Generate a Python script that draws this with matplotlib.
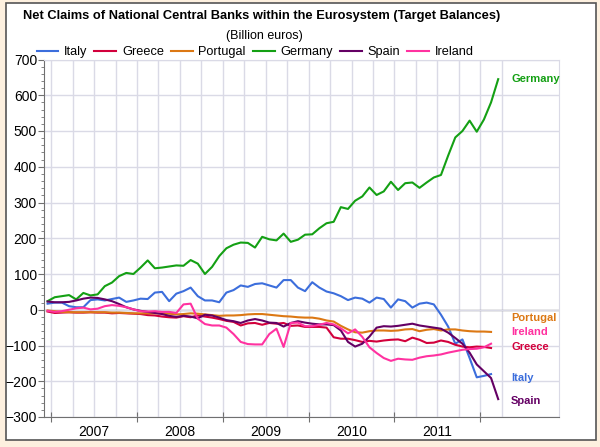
import matplotlib
matplotlib.use("Agg")
import matplotlib.pyplot as plt
from matplotlib.patches import Rectangle

plt.rcParams['font.family'] = ['Liberation Sans', 'DejaVu Sans']

# ---- data (billion euros), monthly from Dec 2006 ----
years = ["2007", "2008", "2009", "2010", "2011"]

germany = [24, 35, 38, 41, 29, 47, 40, 43, 66, 76, 94, 103, 100, 118, 138, 116,
           118, 121, 124, 123, 139, 129, 100, 120, 150, 172, 182, 188, 187, 174,
           204, 197, 194, 213, 190, 196, 210, 211, 228, 242, 246, 287, 282, 305,
           317, 342, 321, 331, 358, 335, 354, 356, 341, 356, 370, 377, 431, 482,
           500, 529, 498, 532, 580, 645]
italy = [17, 20, 20, 10, 7, 7, 27, 29, 26, 30, 34, 22, 26, 31, 30, 48, 50, 24,
         45, 52, 62, 38, 26, 26, 21, 48, 55, 68, 64, 72, 74, 68, 62, 83, 83, 62,
         52, 77, 62, 51, 46, 38, 27, 34, 31, 20, 34, 30, 6, 29, 24, 6, 17, 20,
         15, -14, -47, -95, -83, -135, -189, -185, -180]
greece = [-5, -9, -8, -7, -8, -8, -7, -8, -8, -10, -9, -10, -11, -12, -15, -16,
          -19, -21, -22, -18, -21, -16, -19, -22, -26, -31, -34, -44, -38, -37,
          -42, -37, -39, -37, -45, -44, -48, -48, -48, -50, -77, -81, -81, -85,
          -90, -87, -89, -86, -84, -83, -88, -78, -84, -93, -92, -86, -90, -98,
          -103, -105, -103, -104, -107]
portugal = [-2, -4, -6, -7, -7, -7, -7, -7, -7, -8, -8, -9, -10, -10, -10, -10,
            -10, -11, -13, -12, -10, -11, -13, -15, -17, -16, -16, -15, -13, -12,
            -12, -14, -16, -18, -19, -21, -22, -22, -25, -30, -33, -45, -55, -63,
            -64, -60, -58, -58, -59, -58, -55, -54, -60, -56, -54, -58, -55, -55,
            -58, -60, -61, -61, -62]
spain = [23, 21, 21, 22, 26, 31, 34, 33, 29, 24, 16, 7, 1, -3, -6, -9, -12, -17,
         -20, -17, -19, -24, -14, -16, -22, -29, -32, -37, -30, -26, -30, -36,
         -37, -47, -37, -32, -36, -39, -41, -41, -43, -58, -90, -103, -95, -75,
         -50, -46, -47, -45, -42, -39, -44, -47, -50, -53, -64, -79, -95, -120,
         -153, -172, -191, -250]
ireland = [-3, -6, -4, 0, 4, 6, 1, 3, 10, 13, 11, 7, 1, -4, -5, -4, -6, -6, -9,
           15, 17, -25, -40, -44, -44, -50, -68, -90, -96, -97, -97, -68, -53,
           -104, -37, -36, -46, -46, -42, -37, -41, -52, -66, -55, -76, -105,
           -121, -135, -143, -137, -139, -140, -134, -130, -128, -125, -120,
           -116, -112, -110, -109, -105, -95]

names = ["Italy", "Greece", "Portugal", "Germany", "Spain", "Ireland"]
series = [italy, greece, portugal, germany, spain, ireland]
colors = ["#3C6EDC", "#D2003C", "#DC7814", "#14A014", "#640064", "#FF32A0"]
# end-label vertical positions (layout)
label_y = {"Germany": 646, "Portugal": -22, "Ireland": -63, "Greece": -105,
           "Italy": -191, "Spain": -254}

fig = plt.figure(figsize=(6.0, 4.47), dpi=100)
fig.patch.set_facecolor("#FDF0DF")
fig.patches.append(Rectangle((6 / 600, 1 - 440 / 447), 590 / 600, 437 / 447,
                             transform=fig.transFigure, facecolor="white",
                             edgecolor="#555555", linewidth=1.2, zorder=-10))

ax = fig.add_axes([44 / 600, 1 - 417 / 447, 515 / 600, 357.5 / 447])
ax.set_facecolor("none")
ax.set_xlim(-0.5, 71.5)
ax.set_ylim(-300, 700)

grid_c = "#DADAE6"
# vertical quarterly grid
for k in range(22):
    ax.axvline(0.5 + 3 * k, color=grid_c, lw=1.0, zorder=0)
ax.set_yticks(range(-300, 701, 100))
ax.set_yticks(range(-300, 701, 20), minor=True)
ax.yaxis.grid(True, which="major", color=grid_c, lw=1.0, zorder=0)
ax.axhline(0, color="#909090", lw=1.0, zorder=1)

for n, s, c in zip(names, series, colors):
    ax.plot(range(len(s)), s, color=c, lw=1.5, label=n, zorder=3)
    ax.text(64.8, label_y[n], n, color=c, fontsize=8, fontweight="bold",
            va="center", ha="left")

# x axis: year boundaries as ticks, year labels centred between
ax.set_xticks([0.5 + 12 * k for k in range(6)])
ax.set_xticklabels([])
ax.set_xticks([6.5 + 12 * k for k in range(5)], minor=True)
ax.set_xticklabels(years, minor=True, fontsize=10)
ax.tick_params(axis="x", which="major", direction="inout", length=7,
               color="#707070")
ax.tick_params(axis="x", which="minor", length=0, pad=6)
ax.tick_params(axis="y", which="major", length=4, color="#707070",
               labelsize=10, pad=1)
ax.tick_params(axis="y", which="minor", length=2, color="#707070")

for side in ["top", "right"]:
    ax.spines[side].set_color(grid_c)
for side in ["left", "bottom"]:
    ax.spines[side].set_color("#707070")

fig.text(262 / 600, 1 - 16 / 447,
         "Net Claims of National Central Banks within the Eurosystem (Target Balances)",
         ha="center", va="center", fontsize=9.3, fontweight="bold")
fig.text(264 / 600, 1 - 36 / 447, "(Billion euros)", ha="center", va="center",
         fontsize=9)

fig.legend(loc="center", bbox_to_anchor=(255 / 600, 1 - 52 / 447), ncol=6,
           frameon=False, fontsize=9.2, handlelength=1.7, handletextpad=0.45,
           columnspacing=0.55, borderpad=0, borderaxespad=0)

fig.savefig("out.png", dpi=100, facecolor=fig.get_facecolor())
